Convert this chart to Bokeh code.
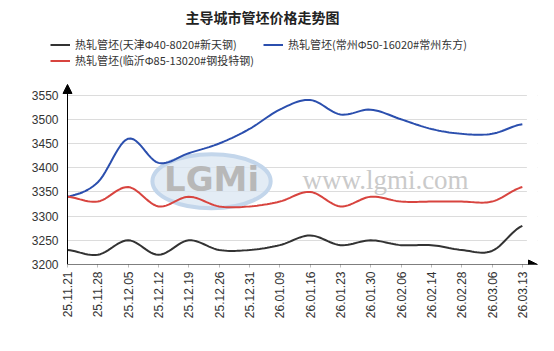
import math
import numpy as np
from bokeh.plotting import figure
from bokeh.models import (Range1d, Legend, LegendItem, Label, Arrow, NormalHead,
                          FixedTicker, BoxAnnotation)
from bokeh.embed import file_html
from bokeh.resources import INLINE

dates = ["25.11.21", "25.11.28", "25.12.05", "25.12.12", "25.12.19", "25.12.26",
         "25.12.31", "26.01.09", "26.01.16", "26.01.23", "26.01.30", "26.02.06",
         "26.02.14", "26.02.28", "26.03.06", "26.03.13"]
tianjin = [3230, 3220, 3250, 3220, 3250, 3230, 3230, 3240, 3260, 3240, 3250, 3240,
           3240, 3230, 3228, 3280]
changzhou = [3340, 3370, 3460, 3410, 3430, 3450, 3480, 3520, 3540, 3510, 3520, 3500,
             3480, 3470, 3470, 3490]
linyi = [3340, 3330, 3360, 3320, 3340, 3320, 3320, 3330, 3350, 3320, 3340, 3330,
         3330, 3330, 3330, 3360]
y_ticks = [3200, 3250, 3300, 3350, 3400, 3450, 3500, 3550]
names = ["热轧管坯(天津Φ40-8020#新天钢)", "热轧管坯(常州Φ50-16020#常州东方)",
         "热轧管坯(临沂Φ85-13020#钢投特钢)"]
colors = ["#333333", "#2B4FAE", "#D8443F"]
title_text = "主导城市管坯价格走势图"

FONT = "Noto Sans CJK SC"


def smooth(ys, n=12):
    """Catmull-Rom spline through the data points (display smoothing only)."""
    y = np.asarray(ys, dtype=float)
    x = np.arange(len(y), dtype=float)
    yp = np.concatenate([[y[0]], y, [y[-1]]])
    xs, out = [], []
    for i in range(1, len(yp) - 2):
        p0, p1, p2, p3 = yp[i - 1], yp[i], yp[i + 1], yp[i + 2]
        for t in np.linspace(0, 1, n, endpoint=False):
            t2, t3 = t * t, t * t * t
            v = 0.5 * ((2 * p1) + (-p0 + p2) * t + (2 * p0 - 5 * p1 + 4 * p2 - p3) * t2
                       + (-p0 + 3 * p1 - 3 * p2 + p3) * t3)
            xs.append(x[i - 1] + t)
            out.append(v)
    xs.append(x[-1])
    out.append(y[-1])
    return xs, out


# frame: left edge at canvas x=48, top at canvas y=0, bottom at y=264, right at x=537
X0 = -19 / 30.3
p = figure(width=554, height=351, output_backend="svg", toolbar_location=None,
           x_range=Range1d(X0, 15.5), y_range=Range1d(3200, 3745.5),
           min_border_left=48, min_border_right=17, min_border_top=0,
           min_border_bottom=87)
p.outline_line_color = None
p.background_fill_color = "white"
p.border_fill_color = "white"

# grid
p.xgrid.grid_line_color = None
p.ygrid.grid_line_color = "#DCDCDC"
p.ygrid.grid_line_width = 1

# axes
p.yaxis.ticker = FixedTicker(ticks=y_ticks)
p.xaxis.ticker = FixedTicker(ticks=list(range(len(dates))))
p.xaxis.major_label_overrides = {i: d for i, d in enumerate(dates)}
p.xaxis.major_label_orientation = math.pi / 2
for ax in (p.xaxis[0], p.yaxis[0]):
    ax.axis_line_color = None
    ax.minor_tick_line_color = None
    ax.major_label_text_font = "Liberation Sans"
    ax.major_label_text_font_size = "12px"
    ax.major_label_text_color = "#333333"
p.yaxis.major_tick_line_color = None
p.xaxis.major_tick_line_color = "#BBBBBB"
p.xaxis.major_tick_in = 0
p.xaxis.major_tick_out = 3
p.yaxis.major_label_standoff = -16
p.xaxis.major_label_standoff = 4

# masks so grid lines start at the y axis and stop after the last point
p.add_layout(BoxAnnotation(right=0, bottom=3201, top=3560, fill_color="white",
                           fill_alpha=1, line_color=None, level="underlay"))
p.add_layout(BoxAnnotation(left=15.15, bottom=3201, top=3560, fill_color="white",
                           fill_alpha=1, line_color=None, level="underlay"))

# watermark
p.ellipse(x=[4.75], y=[3372], width=3.9, height=112, fill_color="#DCE7F3",
          line_color="#C3D6EB", line_width=4, fill_alpha=0.8)
p.add_layout(Label(x=163, y=86, x_units="screen", y_units="screen", text="LGMi",
                   text_font="DejaVu Sans", text_font_size="34px", text_font_style="bold",
                   text_color="#B8B8B8", text_align="center", text_baseline="middle"))
p.add_layout(Label(x=337, y=85, x_units="screen", y_units="screen", text="www.lgmi.com",
                   text_font="Liberation Serif", text_font_size="27px",
                   text_color="#CACACA", text_align="center", text_baseline="middle"))

renderers = []
for ys, c in zip([tianjin, changzhou, linyi], colors):
    sx, sy = smooth(ys)
    r = p.line(sx, sy, line_color=c, line_width=2)
    renderers.append(r)

# axes with arrows
p.add_layout(Arrow(end=NormalHead(size=9, fill_color="black", line_color="black"),
                   x_start=0, y_start=3200, x_end=15.5, y_end=3200,
                   line_color="black", line_width=1))
p.add_layout(Arrow(end=NormalHead(size=9, fill_color="black", line_color="black"),
                   x_start=0, y_start=3200, x_end=0, y_end=3572,
                   line_color="black", line_width=1))

# title
p.add_layout(Label(x=214, y=248, x_units="screen", y_units="screen", text=title_text,
                   text_font=FONT, text_font_size="14px", text_font_style="bold",
                   text_color="#222222", text_align="center", text_baseline="middle"))

# legends
locs = [(2, 212), (215, 212), (2, 196)]
for name, r, loc in zip(names, renderers, locs):
    lg = Legend(items=[LegendItem(label=name, renderers=[r])], location=loc,
                padding=0, margin=0, spacing=0, label_height=13, glyph_height=13,
                glyph_width=20, label_standoff=5, background_fill_alpha=0,
                border_line_color=None, label_text_font=FONT,
                label_text_font_size="11px", label_text_color="#333333")
    p.add_layout(lg, "center")

open("out.html", "w").write(file_html(p, INLINE))
